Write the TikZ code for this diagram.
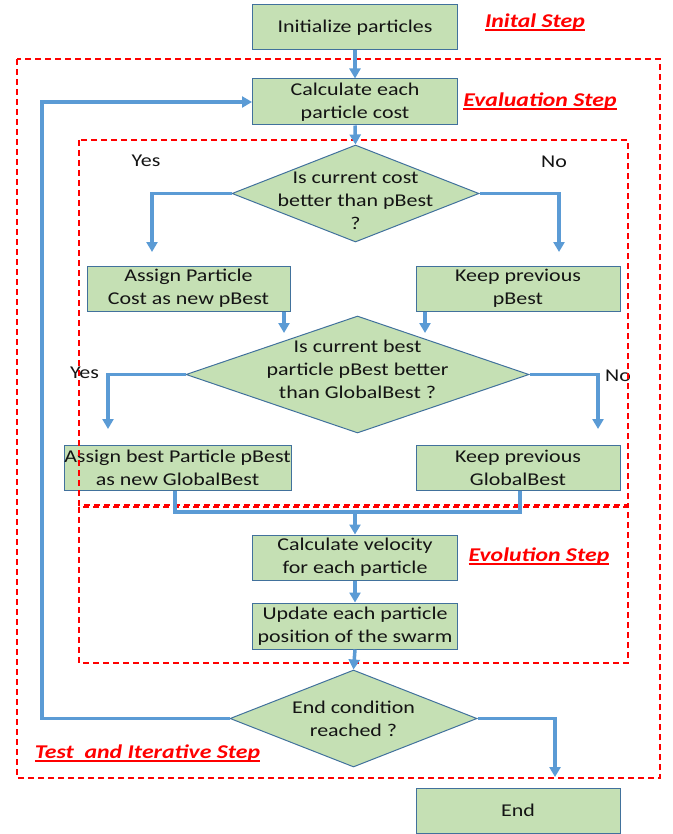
\documentclass[tikz,border=0pt]{standalone}
\usepackage{fontspec}
\setmainfont{Carlito}[FakeStretch=1.22]
\usetikzlibrary{shapes.geometric,arrows.meta}
\definecolor{boxfill}{RGB}{197,224,180}
\definecolor{boxline}{RGB}{65,113,156}
\definecolor{arrblue}{RGB}{91,155,213}
\newcommand\redul[1]{\setbox0\hbox{#1}\rlap{\raisebox{-3.5pt}{\rule{\wd0}{1.6pt}}}\box0}
\begin{document}
\begin{tikzpicture}[x=1pt,y=-1pt,
  txt/.style={font=\fontsize{18}{23}\selectfont, align=center, text=black!92},
  procbox/.style={txt, draw=boxline, line width=1pt, fill=boxfill, inner sep=0pt, minimum width=205pt, minimum height=45pt},
  decbox/.style={diamond, draw=boxline, line width=1pt, fill=boxfill, inner sep=0pt},
  flow/.style={draw=arrblue, line width=3.5pt},
  arr/.style={flow, -{Triangle[length=10pt,width=11pt]}},
  zone/.style={draw=red, line width=1.3pt, dash pattern=on 6pt off 4pt},
  steplabel/.style={font=\fontsize{19.5}{23}\selectfont\bfseries\itshape, text=red, inner sep=0pt},
]
\useasboundingbox (0,0) rectangle (672,834);

% process boxes
\node[procbox] (init) at (355,27.5) {Initialize particles};
\node[procbox, minimum height=46pt] (calc) at (355,102) {Calculate each\\particle cost};
\node[decbox, minimum width=247pt, minimum height=97pt] (d1) at (355.5,193.5) {};
\node[txt] (d1t) at (355.5,201) {Is current cost\\better than pBest\\?};
\node[procbox, minimum width=203pt] (a1) at (188.5,288.5) {Assign Particle\\Cost as new pBest};
\node[procbox, minimum width=204pt] (k1) at (518,288.5) {Keep previous\\pBest};
\node[decbox, minimum width=343pt, minimum height=117pt] (d2) at (357.5,374.5) {};
\node[txt] (d2t) at (357.5,369) {Is current best\\particle pBest better\\than GlobalBest ?};
\node[procbox, minimum width=227pt] (a2) at (177.5,467.5) {Assign best Particle pBest\\as new GlobalBest};
\node[procbox, minimum width=204pt] (k2) at (518,467.5) {Keep previous\\GlobalBest};
\node[procbox] (cv) at (355,557.5) {Calculate velocity\\for each particle};
\node[procbox, minimum height=46pt] (up) at (355,626) {Update each particle\\position of the swarm};
\node[decbox, minimum width=247pt, minimum height=97pt] (d3) at (353.5,718.5) {};
\node[txt] (d3t) at (353.5,718.5) {End condition\\reached ?};
\node[procbox, minimum width=204pt] (endb) at (518,810.5) {End};

% branch labels
\node[txt] (y1) at (146,161) {Yes};
\node[txt] (n1) at (554,162) {No};
\node[txt] (y2) at (84.5,373) {Yes};
\node[txt] (n2) at (618,376) {No};

% zones
\draw[zone] (17,59) rectangle (660,778);
\draw[zone] (79,140) rectangle (628,505);
\draw[zone] (79,507) rectangle (628,663);

% step labels
\node[steplabel] (ls1) at (535,22) {\redul{Inital Step}};
\node[steplabel] (ls2) at (540,101) {\redul{Evaluation Step}};
\node[steplabel] (ls3) at (539,556) {\redul{Evolution Step}};
\node[steplabel] (ls4) at (147.5,753) {\redul{Test\ \ and Iterative Step}};

% connector end points
\coordinate (t1) at (152,252);
\coordinate (t2) at (559,252);
\coordinate (t3) at (284,333);
\coordinate (t4) at (425,333);
\coordinate (t5) at (108,429);
\coordinate (t6) at (598,429);
\coordinate (m1) at (175,512);
\coordinate (m2) at (520,512);
\coordinate (t7) at (555,777);
\coordinate (lp) at (42,0);

% connectors
\draw[arr] (init.south) -- (calc.north);
\draw[arr] (calc.south) -- (d1.north);
\draw[arr] (d1.west) -| (t1);
\draw[arr] (d1.east) -| (t2);
\draw[arr] (a1.south -| t3) -- (t3);
\draw[arr] (k1.south -| t4) -- (t4);
\draw[arr] (d2.west) -| (t5);
\draw[arr] (d2.east) -| (t6);
\draw[flow] (a2.south -| m1) -- (m1) -- (m2) -- (k2.south -| m2);
\draw[arr] (cv.north |- m1) -- (cv.north);
\draw[arr] (cv.south) -- (up.north);
\draw[arr] (up.south) -- (d3.north);
\draw[arr] (d3.east) -| (t7);
\draw[arr] (d3.west) -- (d3.west -| lp) |- (calc.west);
\end{tikzpicture}
\end{document}
